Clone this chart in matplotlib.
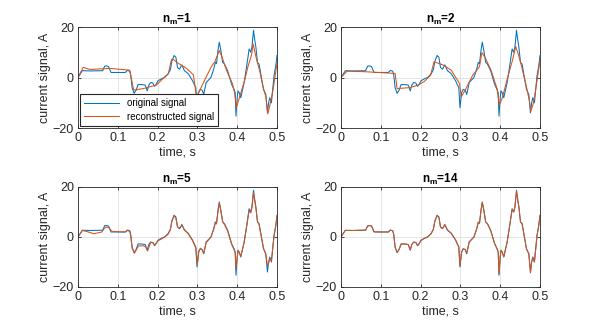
import matplotlib
matplotlib.use("Agg")
import matplotlib.pyplot as plt

# ---- data ----
orig_t = [0.000, 0.011, 0.030, 0.062, 0.067, 0.072, 0.077, 0.083, 0.100, 0.119,
          0.124, 0.130, 0.1325, 0.136, 0.141, 0.146, 0.151, 0.160, 0.169, 0.174,
          0.178, 0.1825, 0.188, 0.1925, 0.197, 0.201, 0.210, 0.2175, 0.226, 0.232,
          0.236, 0.2415, 0.246, 0.250, 0.255, 0.261, 0.2675, 0.277, 0.288, 0.292,
          0.296, 0.299, 0.303, 0.307, 0.312, 0.316, 0.322, 0.334, 0.341, 0.345,
          0.348, 0.352, 0.355, 0.359, 0.3635, 0.368, 0.376, 0.386, 0.392, 0.395,
          0.397, 0.400, 0.402, 0.405, 0.409, 0.4175, 0.424, 0.430, 0.434, 0.437,
          0.441, 0.444, 0.447, 0.451, 0.455, 0.466, 0.472, 0.476, 0.479, 0.482,
          0.486, 0.4925, 0.497, 0.500]
orig_y = [0.0, 2.7, 2.6, 2.7, 4.5, 4.6, 4.3, 2.0, 2.0, 2.0,
          2.8, 2.5, 1.0, -4.0, -6.3, -5.0, -2.8, -2.8, -3.0, -5.3,
          -3.0, -2.0, -2.2, -3.5, -2.5, -1.3, -0.5, 0.0, 1.3, 3.0,
          6.5, 8.7, 8.0, 4.0, 3.3, 5.0, 2.7, 1.5, -1.3, -2.7,
          -4.0, -12.0, -6.0, -4.7, -5.0, -6.7, -2.0, 0.0, 3.3, 6.0,
          5.5, 11.0, 14.0, 10.7, 6.0, 5.3, 2.7, -2.7, -4.7, -6.0,
          -15.3, -8.0, -5.3, -6.0, -8.0, -2.0, 4.7, 11.3, 10.0, 12.0,
          18.7, 15.0, 12.0, 6.0, 5.3, -4.7, -6.7, -14.0, -10.0, -8.0,
          -10.0, 0.7, 4.7, 8.7]

# n_m = 1
rec1_t = [0.000, 0.013, 0.030, 0.080, 0.130, 0.140, 0.164, 0.180, 0.197, 0.227,
          0.235, 0.241, 0.252, 0.273, 0.290, 0.298, 0.314, 0.335, 0.344, 0.355,
          0.363, 0.373, 0.388, 0.394, 0.398, 0.406, 0.419, 0.427, 0.436, 0.440,
          0.448, 0.457, 0.465, 0.472, 0.477, 0.483, 0.490, 0.500]
rec1_y = [0.0, 4.0, 3.2, 3.6, 2.9, -5.0, -4.4, -3.7, -3.0, 1.6,
          7.2, 7.0, 5.6, 3.6, 1.0, -7.7, -2.4, 4.3, 6.3, 10.7,
          7.6, 2.9, -2.4, -6.4, -12.0, -7.7, -1.0, 4.3, 8.9, 13.3,
          7.6, 2.3, -3.7, -7.7, -14.4, -10.4, -5.0, 5.6]

# n_m = 2
rec2_t = [0.000, 0.015, 0.060, 0.136, 0.141, 0.173, 0.194, 0.210, 0.225, 0.234,
          0.240, 0.256, 0.277, 0.298, 0.302, 0.314, 0.331, 0.348, 0.354, 0.363,
          0.377, 0.392, 0.398, 0.406, 0.418, 0.431, 0.439, 0.446, 0.454, 0.466,
          0.473, 0.477, 0.483, 0.489, 0.500]
rec2_y = [0.0, 2.5, 2.3, 1.6, -4.4, -4.0, -3.0, -1.5, 0.9, 6.3,
          5.9, 5.0, 2.9, -2.4, -7.7, -4.4, 0.9, 4.3, 9.9, 7.6,
          2.9, -4.4, -11.0, -7.7, -0.4, 6.9, 12.3, 8.9, 4.3, -3.7,
          -9.0, -13.3, -10.4, -5.0, 6.9]

# n_m = 5
rec5_t = [0.000, 0.011, 0.022, 0.040, 0.060, 0.067, 0.072, 0.077, 0.085, 0.100,
          0.119, 0.125, 0.130, 0.1325, 0.136, 0.142, 0.147, 0.152, 0.165, 0.170,
          0.175, 0.1825, 0.188, 0.193, 0.197, 0.201, 0.210, 0.2175, 0.226, 0.232,
          0.236, 0.2415, 0.246, 0.250, 0.255, 0.261, 0.2675, 0.277, 0.288, 0.292,
          0.296, 0.300, 0.304, 0.308, 0.312, 0.316, 0.322, 0.334, 0.341, 0.345,
          0.348, 0.352, 0.355, 0.359, 0.3635, 0.368, 0.376, 0.386, 0.392, 0.395,
          0.397, 0.400, 0.402, 0.405, 0.409, 0.4175, 0.424, 0.430, 0.434, 0.437,
          0.441, 0.444, 0.447, 0.451, 0.455, 0.466, 0.472, 0.476, 0.479, 0.482,
          0.486, 0.4925, 0.497, 0.500]
rec5_y = [0.0, 2.6, 2.2, 1.3, 2.0, 3.6, 4.0, 3.8, 2.3, 2.1,
          2.0, 2.6, 2.2, 0.5, -4.5, -6.5, -5.0, -3.6, -3.5, -4.0,
          -5.6, -2.2, -2.3, -3.2, -2.3, -1.5, -0.8, 0.0, 1.0, 2.8,
          6.3, 8.5, 7.5, 4.2, 3.5, 4.6, 2.9, 1.3, -1.5, -3.0,
          -4.5, -11.0, -5.5, -4.5, -5.3, -6.5, -2.3, 0.0, 3.0, 5.5,
          5.2, 10.5, 13.5, 10.3, 6.2, 5.0, 2.4, -2.9, -5.0, -6.5,
          -12.5, -8.3, -5.5, -6.3, -7.7, -2.2, 4.3, 10.7, 9.6, 11.6,
          17.8, 14.6, 11.5, 6.2, 5.0, -4.4, -7.0, -11.5, -10.5, -8.5,
          -9.5, 0.3, 4.3, 8.2]

# n_m = 14
rec14_t = [0.000, 0.011, 0.030, 0.062, 0.067, 0.072, 0.077, 0.083, 0.100, 0.119,
           0.124, 0.130, 0.1325, 0.136, 0.141, 0.146, 0.151, 0.160, 0.169, 0.174,
           0.178, 0.1825, 0.188, 0.1925, 0.197, 0.201, 0.210, 0.2175, 0.226, 0.232,
           0.236, 0.2415, 0.246, 0.250, 0.255, 0.261, 0.2675, 0.277, 0.288, 0.292,
           0.296, 0.299, 0.303, 0.307, 0.312, 0.316, 0.322, 0.334, 0.341, 0.345,
           0.348, 0.352, 0.355, 0.359, 0.3635, 0.368, 0.376, 0.386, 0.392, 0.395,
           0.397, 0.400, 0.402, 0.405, 0.409, 0.4175, 0.424, 0.430, 0.434, 0.437,
           0.441, 0.444, 0.447, 0.451, 0.455, 0.466, 0.472, 0.476, 0.479, 0.482,
           0.486, 0.4925, 0.497, 0.500]
rec14_y = [0.0, 2.6, 2.6, 2.8, 4.3, 4.6, 4.4, 2.1, 2.0, 2.0,
           2.7, 2.5, 1.1, -4.1, -6.1, -5.0, -2.9, -2.8, -3.0, -5.1,
           -3.0, -2.1, -2.2, -3.4, -2.5, -1.4, -0.5, 0.0, 1.2, 3.0,
           6.4, 8.5, 7.9, 4.0, 3.4, 4.9, 2.8, 1.5, -1.2, -2.6,
           -4.0, -11.6, -6.0, -4.8, -5.0, -6.5, -2.1, 0.0, 3.2, 5.8,
           5.5, 10.8, 13.8, 10.6, 6.0, 5.3, 2.7, -2.6, -4.6, -6.0,
           -14.8, -8.0, -5.4, -6.0, -7.9, -2.0, 4.6, 11.0, 10.0, 12.0,
           18.3, 15.0, 12.0, 6.0, 5.3, -4.7, -6.8, -14.4, -10.0, -8.2,
           -10.0, 0.5, 4.7, 8.6]

titles = ["1", "2", "5", "14"]
recs = [(rec1_t, rec1_y), (rec2_t, rec2_y), (rec5_t, rec5_y), (rec14_t, rec14_y)]

# ---- style ----
plt.rcParams['font.family'] = ['Liberation Sans', 'DejaVu Sans']
plt.rcParams['mathtext.fontset'] = 'custom'
plt.rcParams['mathtext.rm'] = 'Liberation Sans'
plt.rcParams['mathtext.bf'] = 'Liberation Sans:bold'
plt.rcParams['font.size'] = 9

BLUE = '#0072BD'
ORANGE = '#D95319'
AX_COLOR = '#262626'

fig = plt.figure(figsize=(5.98, 3.23), dpi=100)
positions = [
    [0.1304, 0.6037, 0.3328, 0.3127],
    [0.5702, 0.6037, 0.3328, 0.3127],
    [0.1304, 0.1115, 0.3328, 0.3096],
    [0.5702, 0.1115, 0.3328, 0.3096],
]

for i, pos in enumerate(positions):
    ax = fig.add_axes(pos)
    ax.plot(orig_t, orig_y, color=BLUE, lw=0.75, label='original signal')
    rt, ry = recs[i]
    ax.plot(rt, ry, color=ORANGE, lw=0.75, label='reconstructed signal')

    ax.set_xlim(0, 0.5)
    ax.set_ylim(-20, 20)
    ax.set_xticks([0, 0.1, 0.2, 0.3, 0.4, 0.5])
    ax.set_xticklabels(['0', '0.1', '0.2', '0.3', '0.4', '0.5'])
    ax.set_yticks([-20, 0, 20])
    ax.grid(True, color='#DFDFDF', lw=0.6)
    ax.set_axisbelow(True)
    for s in ax.spines.values():
        s.set_color(AX_COLOR)
        s.set_linewidth(0.6)
    ax.tick_params(direction='in', top=True, right=True, length=2.5, width=0.6,
                   colors=AX_COLOR, labelsize=9, pad=3)
    ax.set_xlabel('time, s', fontsize=9, color=AX_COLOR, labelpad=2)
    ax.set_ylabel('current signal, A', fontsize=9, color=AX_COLOR, labelpad=1)
    ax.set_title(r'$\mathbf{n_m}$=' + titles[i], fontsize=8.5, fontweight='bold', pad=3)

    if i == 0:
        leg = ax.legend(loc='lower left', fontsize=7, frameon=True, fancybox=False,
                        borderaxespad=0.25, handlelength=3.6, borderpad=0.4,
                        labelspacing=0.35)
        leg.get_frame().set_edgecolor(AX_COLOR)
        leg.get_frame().set_linewidth(0.8)
        leg.get_frame().set_alpha(1)

fig.savefig('out.png', dpi=100)
